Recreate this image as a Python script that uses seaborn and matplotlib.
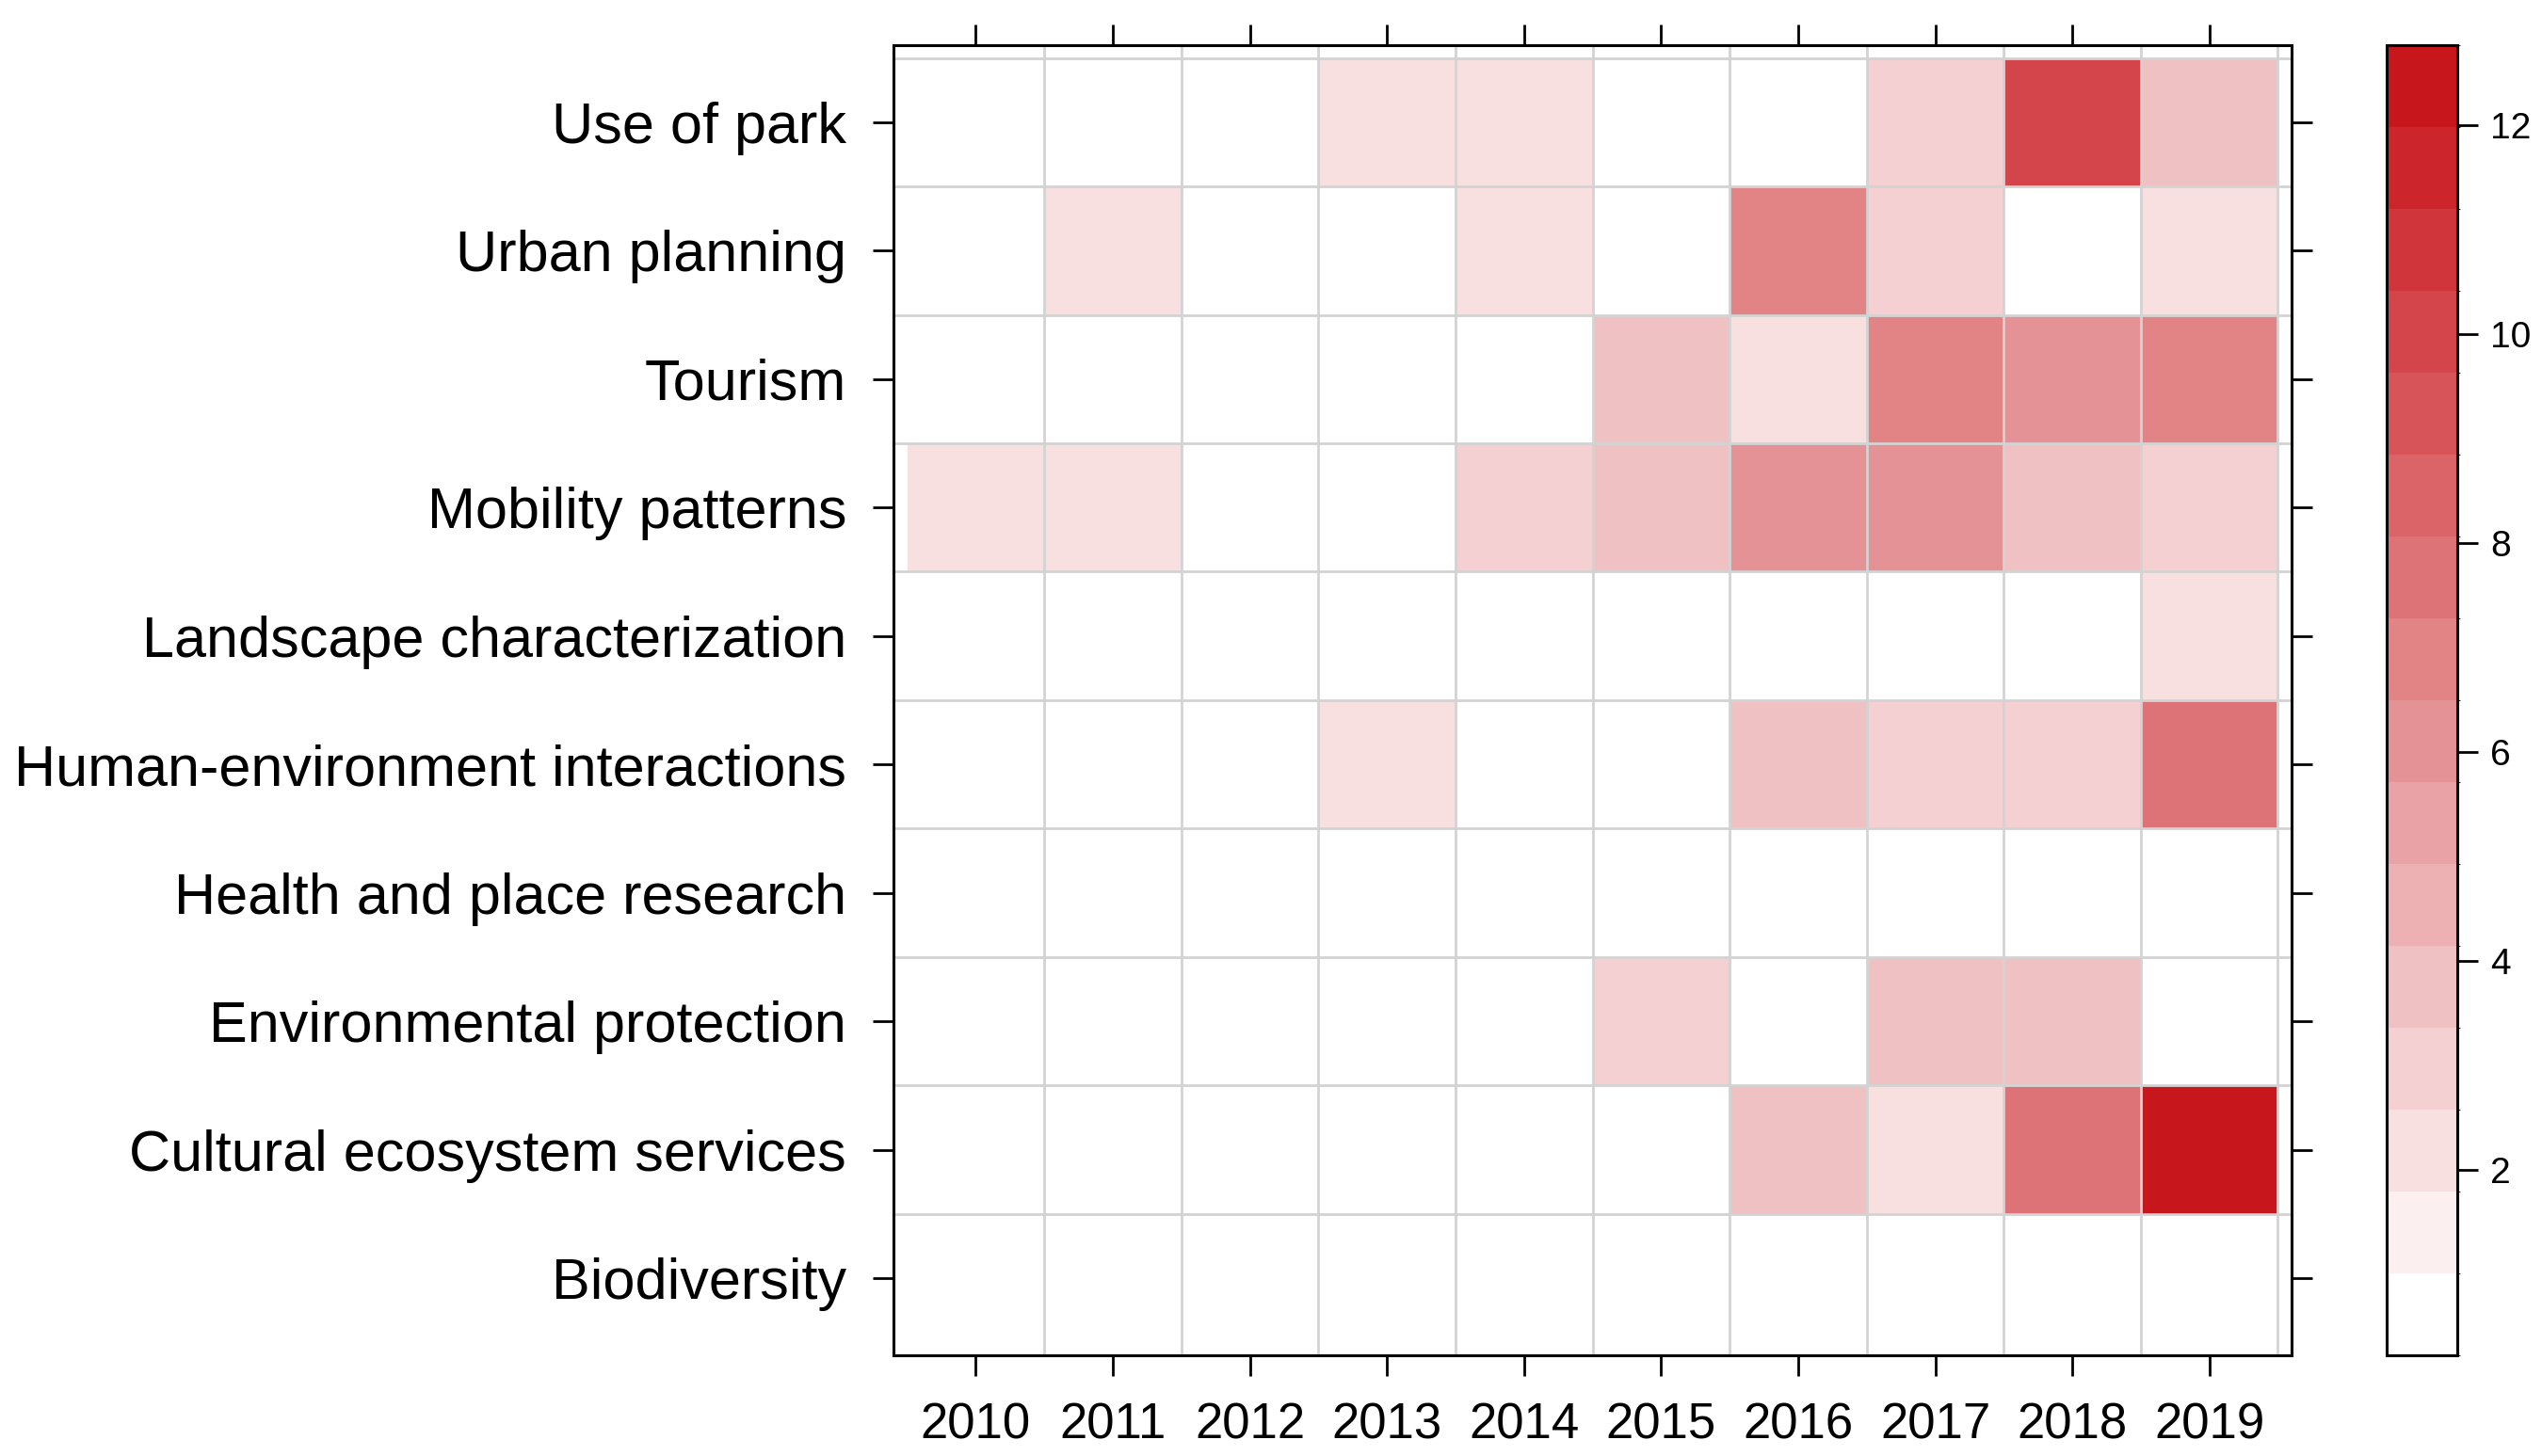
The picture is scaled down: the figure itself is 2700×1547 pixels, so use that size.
import numpy as np
import pandas as pd
import matplotlib
matplotlib.use("Agg")
import matplotlib.pyplot as plt
from matplotlib.colors import ListedColormap, BoundaryNorm
import seaborn as sns

nan = np.nan

years = [2010, 2011, 2012, 2013, 2014, 2015, 2016, 2017, 2018, 2019]
topics = [
    "Use of park",
    "Urban planning",
    "Tourism",
    "Mobility patterns",
    "Landscape characterization",
    "Human-environment interactions",
    "Health and place research",
    "Environmental protection",
    "Cultural ecosystem services",
    "Biodiversity",
]

# counts per topic and year (empty cells are blank)
use_of_park = [nan, nan, nan, 2, 2, nan, nan, 3, 10, 4]
urban_planning = [nan, 2, nan, nan, 2, nan, 7, 3, nan, 2]
tourism = [nan, nan, nan, nan, nan, 4, 2, 7, 6, 7]
mobility = [2, 2, nan, nan, 3, 4, 6, 6, 4, 3]
landscape = [nan, nan, nan, nan, nan, nan, nan, nan, nan, 2]
human_env = [nan, nan, nan, 2, nan, nan, 4, 3, 3, 8]
health = [nan, nan, nan, nan, nan, nan, nan, nan, nan, nan]
env_protection = [nan, nan, nan, nan, nan, 3, nan, 4, 4, nan]
cultural = [nan, nan, nan, nan, nan, nan, 4, 2, 8, 12]
biodiversity = [nan, nan, nan, nan, nan, nan, nan, nan, nan, nan]

cbar_ticks = [2, 4, 6, 8, 10, 12]

counts = pd.DataFrame(
    [use_of_park, urban_planning, tourism, mobility, landscape,
     human_env, health, env_protection, cultural, biodiversity],
    index=topics, columns=years,
)

sns.set_style("ticks")
plt.rcParams["font.family"] = ["Liberation Sans", "DejaVu Sans"]
plt.rcParams["text.color"] = "black"
plt.rcParams["xtick.color"] = "black"
plt.rcParams["ytick.color"] = "black"

# lattice-like colour scale: 16 levels over the data range padded by 7%
n_bins = 16
lo, hi = 1, 12
pad = 0.07 * (hi - lo)
bounds = np.linspace(lo - pad, hi + pad, n_bins + 1)
cmap = ListedColormap(sns.blend_palette(["white", "#C8161D"], n_bins))
norm = BoundaryNorm(bounds, n_bins)

fig = plt.figure(figsize=(27, 15.47), dpi=100)
ax = fig.add_axes([0.3515, 0.0692, 0.5500, 0.8998])
cax = fig.add_axes([0.9389, 0.0692, 0.0278, 0.8998])

sns.heatmap(counts, ax=ax, cbar_ax=cax, cmap=cmap, norm=norm,
            cbar_kws={"ticks": cbar_ticks})

# grid lines between cells
for x in range(1, len(years) + 1):
    ax.axvline(x, color="#D3D3D3", lw=2, zorder=2)
for y in range(0, len(topics)):
    ax.axhline(y, color="#D3D3D3", lw=2, zorder=2)

ax.set_xlim(-0.1, len(years) + 0.1)
ax.set_ylim(len(topics) + 0.1, -0.1)

for sp in ax.spines.values():
    sp.set_visible(True)
    sp.set_linewidth(2.2)
    sp.set_color("black")
    sp.set_zorder(3)

ax.tick_params(direction="out", length=16, width=2, top=True, right=True,
               labeltop=False, labelright=False, pad=20)
ax.tick_params(axis="x", labelsize=38)
ax.tick_params(axis="y", labelsize=44)
ax.set_xticklabels(years, rotation=0)
ax.set_yticklabels(topics, rotation=0, va="center_baseline")
ax.set_xlabel("")
ax.set_ylabel("")

cbar = ax.collections[0].colorbar
cbar.outline.set_visible(True)
cbar.outline.set_linewidth(2.2)
cbar.outline.set_edgecolor("black")
cax.tick_params(direction="out", length=16, width=2, labelsize=28, pad=9)

fig.savefig("out.png", dpi=100, facecolor="white")
